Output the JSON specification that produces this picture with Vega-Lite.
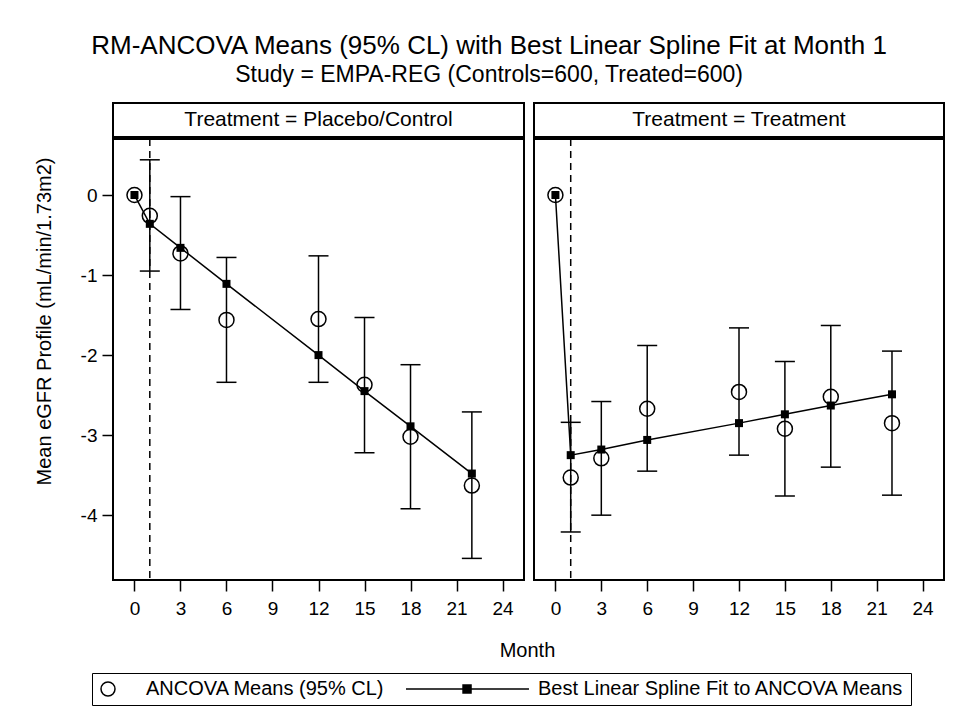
{
  "$schema": "https://vega.github.io/schema/vega-lite/v6.json",
  "padding": {"left": 33, "top": 33, "right": 5, "bottom": 5},
  "title": {
    "text": "RM-ANCOVA Means (95% CL) with Best Linear Spline Fit at Month 1",
    "subtitle": "Study = EMPA-REG (Controls=600, Treated=600)",
    "fontSize": 26, "subtitleFontSize": 23,
    "font": "Liberation Sans", "subtitleFont": "Liberation Sans",
    "fontWeight": "normal", "color": "black", "subtitleColor": "black",
    "anchor": "middle", "offset": 15, "subtitlePadding": 5
  },
  "datasets": {
    "profile": [
      {"panel": "Placebo/Control", "month": 0, "mean": 0, "lower": null, "upper": null, "fit": 0},
      {"panel": "Placebo/Control", "month": 1, "mean": -0.26, "lower": -0.95, "upper": 0.44, "fit": -0.36},
      {"panel": "Placebo/Control", "month": 3, "mean": -0.73, "lower": -1.43, "upper": -0.02, "fit": -0.66},
      {"panel": "Placebo/Control", "month": 6, "mean": -1.56, "lower": -2.34, "upper": -0.78, "fit": -1.11},
      {"panel": "Placebo/Control", "month": 12, "mean": -1.55, "lower": -2.34, "upper": -0.76, "fit": -2.0},
      {"panel": "Placebo/Control", "month": 15, "mean": -2.37, "lower": -3.22, "upper": -1.53, "fit": -2.45},
      {"panel": "Placebo/Control", "month": 18, "mean": -3.02, "lower": -3.92, "upper": -2.12, "fit": -2.89},
      {"panel": "Placebo/Control", "month": 22, "mean": -3.63, "lower": -4.54, "upper": -2.71, "fit": -3.48},
      {"panel": "Treatment", "month": 0, "mean": 0, "lower": null, "upper": null, "fit": 0},
      {"panel": "Treatment", "month": 1, "mean": -3.53, "lower": -4.21, "upper": -2.84, "fit": -3.25},
      {"panel": "Treatment", "month": 3, "mean": -3.29, "lower": -4.0, "upper": -2.58, "fit": -3.18},
      {"panel": "Treatment", "month": 6, "mean": -2.67, "lower": -3.45, "upper": -1.88, "fit": -3.06},
      {"panel": "Treatment", "month": 12, "mean": -2.46, "lower": -3.25, "upper": -1.66, "fit": -2.85},
      {"panel": "Treatment", "month": 15, "mean": -2.92, "lower": -3.76, "upper": -2.08, "fit": -2.74},
      {"panel": "Treatment", "month": 18, "mean": -2.52, "lower": -3.4, "upper": -1.63, "fit": -2.63},
      {"panel": "Treatment", "month": 22, "mean": -2.85, "lower": -3.75, "upper": -1.95, "fit": -2.49}
    ],
    "knot": [{"month": 1}]
  },
  "data": {"name": "profile"},
  "columns": 2,
  "spacing": {"row": 2, "column": 10},
  "bounds": "flush",
  "concat": [
    {
      "width": 411, "height": 34,
      "view": {"stroke": "black", "strokeWidth": 2},
      "data": {"values": [{"label": "Treatment = Placebo/Control"}]},
      "mark": {"type": "text", "fontSize": 21, "color": "black", "baseline": "middle", "align": "center"},
      "encoding": {"text": {"field": "label"}}
    },
    {
      "width": 410, "height": 34,
      "view": {"stroke": "black", "strokeWidth": 2},
      "data": {"values": [{"label": "Treatment = Treatment"}]},
      "mark": {"type": "text", "fontSize": 21, "color": "black", "baseline": "middle", "align": "center"},
      "encoding": {"text": {"field": "label"}}
    },
    {
      "width": 411, "height": 441,
      "transform": [{"filter": "datum.panel === 'Placebo/Control'"}],
      "encoding": {
        "x": {"field": "month", "type": "quantitative",
          "scale": {"domain": [-1.4, 25.4], "nice": false, "zero": false},
          "axis": {"values": [0, 3, 6, 9, 12, 15, 18, 21, 24], "title": "Month", "titleX": 414, "titlePadding": 22, "labelPadding": 8}}
      },
      "layer": [
        {
          "data": {"name": "knot"},
          "mark": {"type": "rule", "strokeDash": [7, 5], "strokeWidth": 1.5, "color": "black"},
          "encoding": {"x": {"field": "month", "type": "quantitative"}}
        },
        {
          "mark": {"type": "rule", "strokeWidth": 1.5, "color": "black"},
          "encoding": {
            "y": {"field": "lower", "type": "quantitative", "title": "Mean eGFR Profile (mL/min/1.73m2)",
              "scale": {"domain": [-4.81, 0.7], "nice": false, "zero": false},
              "axis": {"values": [0, -1, -2, -3, -4], "labelExpr": "toString(datum.value)", "labelPadding": 5, "titlePadding": 26, "titleY": 182}},
            "y2": {"field": "upper"}
          }
        },
        {
          "mark": {"type": "tick", "orient": "horizontal", "size": 20, "thickness": 1.5, "color": "black", "opacity": 1},
          "encoding": {"y": {"field": "lower", "type": "quantitative", "title": "Mean eGFR Profile (mL/min/1.73m2)"}}
        },
        {
          "mark": {"type": "tick", "orient": "horizontal", "size": 20, "thickness": 1.5, "color": "black", "opacity": 1},
          "encoding": {"y": {"field": "upper", "type": "quantitative", "title": "Mean eGFR Profile (mL/min/1.73m2)"}}
        },
        {
          "mark": {"type": "line", "color": "black", "strokeWidth": 1.5},
          "encoding": {"y": {"field": "fit", "type": "quantitative", "title": "Mean eGFR Profile (mL/min/1.73m2)"}}
        },
        {
          "mark": {"type": "point", "shape": "square", "filled": true, "color": "black", "size": 64, "opacity": 1},
          "encoding": {
            "y": {"field": "fit", "type": "quantitative", "title": "Mean eGFR Profile (mL/min/1.73m2)"}
          }
        },
        {
          "mark": {"type": "point", "filled": false, "color": "black", "size": 225, "strokeWidth": 1.5, "opacity": 1},
          "encoding": {
            "y": {"field": "mean", "type": "quantitative", "title": "Mean eGFR Profile (mL/min/1.73m2)"},
            "shape": {"datum": "ANCOVA Means (95% CL)", "type": "nominal",
              "scale": {"domain": ["ANCOVA Means (95% CL)", "Best Linear Spline Fit to ANCOVA Means"],
                "range": ["circle", "M-13.43,0H4.14M-5.28,-0.57H-4.14V0.57H-5.28ZM-5.28,-0.38H-4.14M-5.28,-0.19H-4.14M-5.28,0H-4.14M-5.28,0.19H-4.14M-5.28,0.38H-4.14"]},
              "legend": {
                "orient": "none", "legendX": -21, "legendY": 570, "direction": "horizontal", "title": null,
                "strokeColor": "black", "padding": 6, "labelFontSize": 20, "labelColor": "black", "labelLimit": 800,
                "symbolSize": 196, "labelOffset": 28, "columnPadding": 17,
                "symbolStrokeColor": "black", "symbolStrokeWidth": 1.5, "symbolFillColor": "transparent", "symbolOpacity": 1
              }}
          }
        }
      ]
    },
    {
      "width": 410, "height": 441,
      "transform": [{"filter": "datum.panel === 'Treatment'"}],
      "encoding": {
        "x": {"field": "month", "type": "quantitative",
          "scale": {"domain": [-1.4, 25.4], "nice": false, "zero": false},
          "axis": {"values": [0, 3, 6, 9, 12, 15, 18, 21, 24], "title": null, "labelPadding": 8}}
      },
      "layer": [
        {
          "data": {"name": "knot"},
          "mark": {"type": "rule", "strokeDash": [7, 5], "strokeWidth": 1.5, "color": "black"},
          "encoding": {"x": {"field": "month", "type": "quantitative"}}
        },
        {
          "mark": {"type": "rule", "strokeWidth": 1.5, "color": "black"},
          "encoding": {
            "y": {"field": "lower", "type": "quantitative",
              "scale": {"domain": [-4.81, 0.7], "nice": false, "zero": false}, "axis": null},
            "y2": {"field": "upper"}
          }
        },
        {
          "mark": {"type": "tick", "orient": "horizontal", "size": 20, "thickness": 1.5, "color": "black", "opacity": 1},
          "encoding": {"y": {"field": "lower", "type": "quantitative", "axis": null}}
        },
        {
          "mark": {"type": "tick", "orient": "horizontal", "size": 20, "thickness": 1.5, "color": "black", "opacity": 1},
          "encoding": {"y": {"field": "upper", "type": "quantitative", "axis": null}}
        },
        {
          "mark": {"type": "line", "color": "black", "strokeWidth": 1.5},
          "encoding": {"y": {"field": "fit", "type": "quantitative", "axis": null}}
        },
        {
          "mark": {"type": "point", "shape": "square", "filled": true, "color": "black", "size": 64, "opacity": 1},
          "encoding": {
            "y": {"field": "fit", "type": "quantitative", "axis": null}
          }
        },
        {
          "mark": {"type": "point", "filled": false, "color": "black", "size": 225, "strokeWidth": 1.5, "opacity": 1},
          "encoding": {
            "y": {"field": "mean", "type": "quantitative", "axis": null},
            "shape": {"datum": "ANCOVA Means (95% CL)", "type": "nominal"}
          }
        }
      ]
    }
  ],
  "config": {
    "font": "Liberation Sans",
    "view": {"stroke": "black", "strokeWidth": 2},
    "axis": {
      "grid": false, "domain": false, "tickColor": "black", "tickWidth": 1.5, "tickSize": 11,
      "labelColor": "black", "labelFontSize": 19, "labelFont": "Liberation Sans",
      "titleColor": "black", "titleFontSize": 20, "titleFontWeight": "normal", "titleFont": "Liberation Sans"
    },
    "legend": {"labelFont": "Liberation Sans"}
  }
}
